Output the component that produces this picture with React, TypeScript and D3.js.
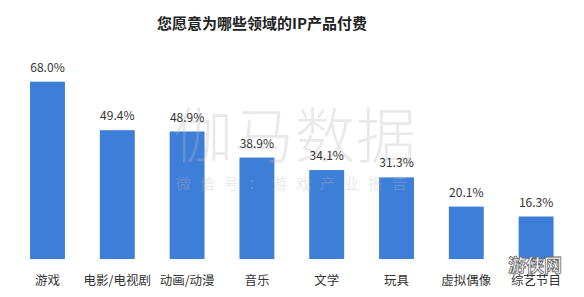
import React from "react";
import * as d3 from "d3";

const categories = ["游戏", "电影/电视剧", "动画/动漫", "音乐", "文学", "玩具", "虚拟偶像", "综艺节目"];
const values = [68.0, 49.4, 48.9, 38.9, 34.1, 31.3, 20.1, 16.3];
const title = "您愿意为哪些领域的IP产品付费";

const W = 584;
const H = 297;
const baseline = 259;
const font = "'Noto Sans CJK SC', 'Microsoft YaHei', sans-serif";

export default function App() {
  const x = d3
    .scaleBand<string>()
    .domain(categories)
    .range([12.6, 571])
    .paddingInner(0.5)
    .paddingOuter(0.25);
  const y = d3.scaleLinear().domain([0, 68]).range([baseline, 81.7]);

  return (
    <svg
      width={W}
      height={H}
      style={{ position: "absolute", left: 0, top: 0, background: "#fff" }}
      fontFamily={font}
    >
      <rect width={W} height={H} fill="#fff" />
      <text x={262} y={29} textAnchor="middle" fontSize={15} fontWeight={700} fill="#222">
        {title}
      </text>
      {categories.map((c, i) => {
        const bx = x(c)!;
        const bw = x.bandwidth();
        const top = y(values[i]);
        return (
          <rect key={c} x={bx} y={top} width={bw} height={baseline - top} fill="#3d7ed8" />
        );
      })}
      {/* translucent watermark over the bars */}
      <g fill="#b8b8b8" opacity={0.3}>
        <text x={295} y={158} textAnchor="middle" fontSize={60} fontWeight={300} letterSpacing={1}>
          伽马数据
        </text>
        <text x={296} y={189} textAnchor="middle" fontSize={15} letterSpacing={9}>
          微信号：游戏产业报告
        </text>
      </g>
      {categories.map((c, i) => {
        const bx = x(c)!;
        const bw = x.bandwidth();
        const top = y(values[i]);
        return (
          <g key={c}>
            <text x={bx + bw / 2} y={top - 10} textAnchor="middle" fontSize={12} fill="#333">
              {values[i].toFixed(1)}%
            </text>
            <text x={bx + bw / 2} y={285} textAnchor="middle" fontSize={12.5} fill="#333">
              {c}
            </text>
          </g>
        );
      })}
      <text
        x={535}
        y={272}
        textAnchor="middle"
        fontSize={18}
        fontWeight={700}
        fill="#fff"
        stroke="#666"
        strokeWidth={0.8}
      >
        游侠网
      </text>
    </svg>
  );
}
